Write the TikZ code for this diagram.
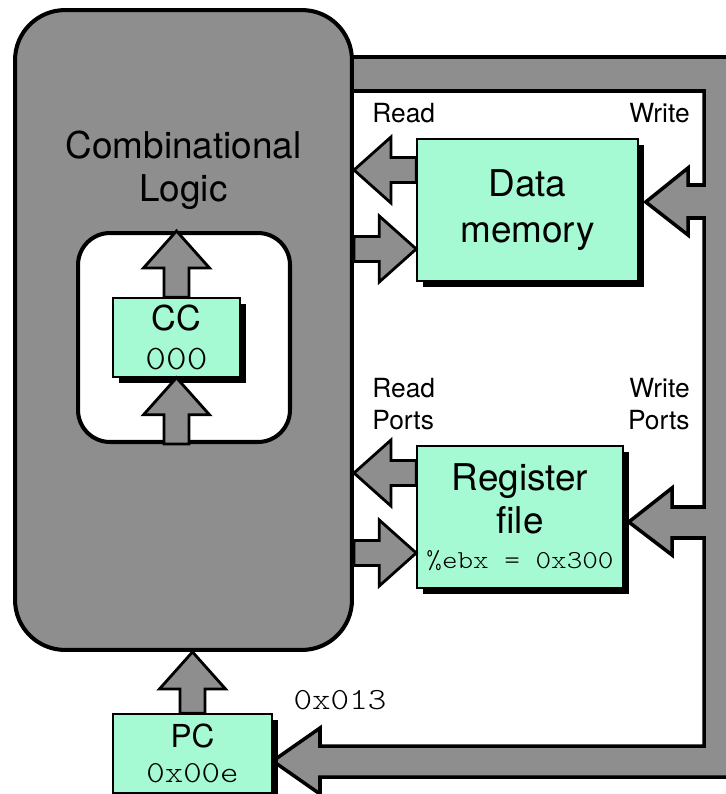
\documentclass[tikz,border=0pt]{standalone}
\usepackage{fontspec}
\setmainfont{TeX Gyre Heros}
\newfontfamily\codefont[FakeStretch=1.15]{lmmonolt10-regular.otf}
\usetikzlibrary{calc,shadows}

\definecolor{cellgreen}{RGB}{165,250,212}
\definecolor{busgray}{RGB}{142,142,142}

\pgfdeclarelayer{bus}
\pgfsetlayers{bus,main}

\tikzset{
    unit/.style={draw=black, line width=0.9pt, fill=cellgreen, inner sep=0pt, align=center,
        drop shadow={shadow xshift=3.5pt, shadow yshift=-3.5pt, opacity=1, fill=black}},
    portlabel/.style={inner sep=0pt, font=\fontsize{15}{18.2}\selectfont},
    fatline/.style={draw=black, line width=1.6pt, fill=busgray, line join=miter},
    busline/.style={draw=black, line width=2pt, fill=busgray, line join=miter}
}

% fat arrow from #1 (tail) to #2 (tip)
\newcommand{\fatarrow}[2]{%
    \coordinate (fa base) at ($(#2)!0.74cm!(#1)$);
    \draw[fatline] ($(#1)!0.25cm!90:(#2)$) -- ($(fa base)!0.25cm!90:(#2)$)
        -- ($(fa base)!0.66cm!90:(#2)$) -- (#2) -- ($(fa base)!0.66cm!-90:(#2)$)
        -- ($(fa base)!0.25cm!-90:(#2)$) -- ($(#1)!0.25cm!-90:(#2)$) -- cycle;}

\begin{document}
\begin{tikzpicture}[x=0.02cm, y=-0.02cm]
    \useasboundingbox (0,0) rectangle (726,794);

    %%logic
    \node[draw, line width=2.3pt, fill=busgray, rounded corners=1cm,
        minimum width=6.74cm, minimum height=12.8cm] (logic) at (183.5,330) {};
    \node[align=center, font=\fontsize{21}{24.5}\selectfont] (logictext) at (183.5,170)
        {Combinational\\Logic};
    \node[draw, line width=2.3pt, fill=white, rounded corners=0.64cm,
        minimum width=4.24cm, minimum height=4.18cm] (inner) at (184,337.5) {};

    %%state
    \node[unit, minimum width=2.54cm, minimum height=1.58cm,
        font=\fontsize{19.5}{22.5}\selectfont] (cc) at (176.5,337.5)
        {CC\\{\codefont\fontsize{19.5}{19.5}\selectfont 000}};
    \node[unit, minimum width=4.42cm, minimum height=2.84cm,
        font=\fontsize{21}{26.5}\selectfont] (dmem) at (527.5,210) {Data\\memory};
    \node[unit, minimum width=4.12cm, minimum height=2.84cm,
        font=\fontsize{21}{24.5}\selectfont] (rf) at (520,517)
        {Register\\file\\[-4.5pt]{\codefont\fontsize{14.7}{14.7}\selectfont\%ebx = 0x300}};
    \node[unit, minimum width=3.18cm, minimum height=1.58cm,
        font=\fontsize{18}{19.6}\selectfont] (pc) at (192.5,753.5)
        {PC\\{\codefont\fontsize{17.4}{17.4}\selectfont 0x00e}};

    %%labels
    \node[portlabel, anchor=base west] (memread) at (372,122) {Read};
    \node[portlabel, anchor=base east] (memwrite) at (690,122) {Write};
    \node[portlabel, anchor=west, align=left] (regread) at (372,404) {Read\\Ports};
    \node[portlabel, anchor=east, align=right] (regwrite) at (690,404) {Write\\Ports};
    \node[font=\codefont\fontsize{17.5}{17.5}\selectfont] (newpc) at (340,700) {0x013};

    %%arrows
    \coordinate (mem rd) at ([yshift=0.8cm]dmem.west);
    \coordinate (mem wr) at ([yshift=-0.78cm]dmem.west);
    \coordinate (reg rd) at ([yshift=0.88cm]rf.west);
    \coordinate (reg wr) at ([yshift=-0.72cm]rf.west);
    \fatarrow{mem rd}{logic.east |- mem rd}
    \fatarrow{logic.east |- mem wr}{mem wr}
    \fatarrow{reg rd}{logic.east |- reg rd}
    \fatarrow{logic.east |- reg wr}{reg wr}
    \fatarrow{cc.north}{cc.north |- inner.north}
    \fatarrow{cc.south |- inner.south}{cc.south}
    \fatarrow{pc.north}{pc.north |- logic.south}

    %%bus
    \coordinate (mem in) at ([xshift=0.14cm,yshift=0.16cm]dmem.east);
    \coordinate (reg in) at ([xshift=0.1cm,yshift=-0.1cm]rf.east);
    \coordinate (pc in) at ([yshift=-0.15cm]pc.east);
    \begin{pgfonlayer}{bus}
        \draw[busline] (340,57) -- (740,57) -- (740,777) -- (320,777) -- (320,794)
            -- (pc in) -- (320,728) -- (320,746) -- (704,746)
            -- (704,538) -- (672,538) -- (672,555) -- (reg in) -- (672,488) -- (672,507) -- (704,507)
            -- (704,218) -- (688,218) -- (688,235) -- (mem in) -- (688,168) -- (688,185) -- (704,185)
            -- (704,91) -- (340,91) -- cycle;
    \end{pgfonlayer}
\end{tikzpicture}
\end{document}
